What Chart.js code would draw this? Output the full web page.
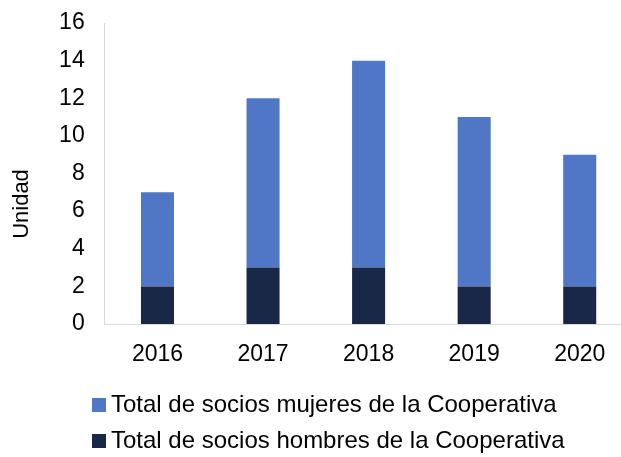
<!DOCTYPE html>
<html lang="es">
<head>
<meta charset="utf-8">
<title>Socios de la Cooperativa</title>
<script src="https://cdn.jsdelivr.net/npm/chart.js@4/dist/chart.umd.min.js"></script>
<style>
  html, body { margin: 0; padding: 0; background: #fff; overflow: hidden; }
  #wrap { position: absolute; left: 0; top: 0; }
</style>
</head>
<body>
<div id="wrap"><canvas id="sociosChart" width="640" height="470"></canvas></div>
<script>
// Datos por año
const years = ['2016', '2017', '2018', '2019', '2020'];
const hombres = [2, 3, 3, 2, 2];
const mujeres = [5, 9, 11, 9, 7];
const yTicks = { min: 0, max: 16, step: 2 };

const FONT = "'Liberation Sans', Arial, sans-serif";
const AXIS_GRAY = '#d9d9d9';

// Titulo del eje vertical, dibujado a mano para poder bajarlo un poco
// y leyenda alineada con el eje en vez del borde del lienzo
const layoutTweaks = {
    id: 'layoutTweaks',
    afterLayout(chart) {
        chart.legend.left = 87;
    },
    afterDraw(chart) {
        const ctx = chart.ctx;
        ctx.save();
        ctx.translate(22, 204);
        ctx.rotate(-Math.PI / 2);
        ctx.font = '22px ' + FONT;
        ctx.fillStyle = '#000';
        ctx.textAlign = 'center';
        ctx.textBaseline = 'middle';
        ctx.fillText('Unidad', 0, 0);
        ctx.restore();
    }
};

const ctx = document.getElementById('sociosChart');
new Chart(ctx, {
    type: 'bar',
    data: {
        labels: years,
        datasets: [
            {
                label: 'Total de socios hombres de la Cooperativa',
                data: hombres,
                backgroundColor: '#1a2848'
            },
            {
                label: 'Total de socios mujeres de la Cooperativa',
                data: mujeres,
                backgroundColor: '#4f77c5'
            }
        ]
    },
    options: {
        responsive: false,
        animation: false,
        layout: { padding: { left: 0, right: 7.5, top: 23, bottom: 7 } },
        datasets: { bar: { barPercentage: 0.313, categoryPercentage: 1 } },
        scales: {
            x: {
                stacked: true,
                grid: { display: false, drawTicks: false },
                border: { display: true, color: AXIS_GRAY, width: 1 },
                ticks: { color: '#000', padding: 17, font: { family: FONT, size: 23 } },
                afterFit(scale) { scale.height = 57; }
            },
            y: {
                stacked: true,
                min: yTicks.min,
                max: yTicks.max,
                grid: { display: false, drawTicks: false },
                border: { display: true, color: AXIS_GRAY, width: 1 },
                ticks: { stepSize: yTicks.step, color: '#000', padding: 20, font: { family: FONT, size: 23 } },
                afterFit(scale) {
                    scale.width = 104.7;
                    scale.paddingTop = 0;
                    scale.paddingBottom = 0;
                }
            }
        },
        plugins: {
            tooltip: { enabled: false },
            legend: {
                position: 'bottom',
                align: 'start',
                reverse: true,
                labels: {
                    usePointStyle: true,
                    pointStyle: 'rect',
                    boxWidth: 0.01,
                    boxHeight: 14,
                    padding: 12,
                    color: '#000',
                    font: { family: FONT, size: 24 }
                }
            }
        }
    },
    plugins: [layoutTweaks]
});
</script>
</body>
</html>
